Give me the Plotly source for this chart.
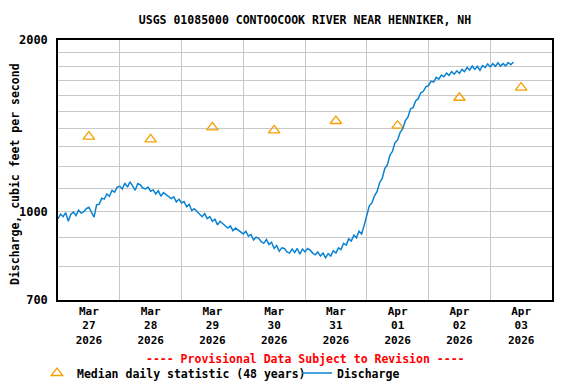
import plotly.graph_objects as go
import pandas as pd
import math

title_text = "USGS 01085000 CONTOOCOOK RIVER NEAR HENNIKER, NH"
y_axis_title = "Discharge, cubic feet per second"
provisional_text = "---- Provisional Data Subject to Revision ----"
median_name = "Median daily statistic (48 years)"
discharge_name = "Discharge"

# Median daily statistic, plotted at noon of each day
median_dates = ["2026-03-27 12:00", "2026-03-28 12:00", "2026-03-29 12:00", "2026-03-30 12:00",
                "2026-03-31 12:00", "2026-04-01 12:00", "2026-04-02 12:00", "2026-04-03 12:00"]
median_values = [1354, 1339, 1406, 1389, 1442, 1415, 1584, 1650]

# Hourly discharge (cfs) starting 2026-03-27 00:00
discharge_start = "2026-03-27 00:00"
discharge_values = [
    # Mar 27
    972, 990, 980, 996, 962, 990, 998, 984, 1006, 994, 1000, 1012,
    1018, 1000, 978, 1028, 1030, 1056, 1052, 1074, 1064, 1090, 1082, 1104,
    # Mar 28
    1108, 1096, 1122, 1104, 1128, 1110, 1090, 1120, 1114, 1100, 1096, 1104,
    1086, 1092, 1074, 1088, 1064, 1080, 1072, 1062, 1054, 1062, 1040, 1052,
    # Mar 29
    1036, 1042, 1020, 1030, 1004, 1012, 1000, 990, 980, 992, 972, 980,
    962, 970, 948, 962, 952, 944, 936, 944, 926, 936, 928, 920,
    # Mar 30
    914, 924, 906, 912, 892, 902, 898, 886, 880, 894, 876, 884,
    862, 872, 852, 864, 862, 850, 846, 860, 848, 862, 842, 860,
    # Mar 31
    850, 862, 856, 846, 840, 850, 836, 846, 830, 844, 836, 854,
    846, 864, 858, 880, 874, 896, 888, 910, 900, 924, 914, 946,
    # Apr 01
    986, 1024, 1036, 1066, 1084, 1124, 1144, 1190, 1208, 1256, 1276, 1322,
    1336, 1378, 1398, 1444, 1464, 1514, 1522, 1564, 1578, 1616, 1626, 1656,
    # Apr 02
    1664, 1694, 1688, 1720, 1708, 1736, 1724, 1750, 1734, 1760, 1742, 1766,
    1748, 1776, 1760, 1790, 1772, 1800, 1776, 1798, 1770, 1804, 1790, 1816,
    # Apr 03
    1794, 1818, 1798, 1824, 1800, 1818, 1802, 1826, 1810, 1830,
]

x_range = ["2026-03-27 00:00", "2026-04-04 00:00"]
y_range = [700, 2000]
y_tick_values = [700, 800, 900, 1000, 1100, 1200, 1300, 1400, 1500, 1600, 1700, 1800, 1900, 2000]
y_tick_labels = ["700", "", "", "1000", "", "", "", "", "", "", "", "", "", "2000"]

discharge_times = pd.date_range(discharge_start, periods=len(discharge_values), freq="h")

FONT = "DejaVu Sans Mono"
GRID = "#c8c8c8"
# the page body adds an 8px offset, so the figure is 8px smaller and everything shifted
W, H = 568, 376

fig = go.Figure()
fig.add_trace(go.Scatter(
    x=median_dates, y=median_values, mode="markers", name=median_name, legend="legend",
    marker=dict(symbol="triangle-up-open", size=10, color="#f5a000", line=dict(width=1.3, color="#f5a000")),
))
fig.add_trace(go.Scatter(
    x=discharge_times, y=discharge_values, mode="lines", name=discharge_name, legend="legend2",
    line=dict(color="#0a82d2", width=1.5),
))

legend_font = dict(family=FONT, size=11.5, color="black", weight="bold")
fig.update_layout(
    width=W, height=H,
    margin=dict(l=50, r=24, t=32, b=84, autoexpand=False),
    paper_bgcolor="white", plot_bgcolor="white",
    font=dict(family=FONT, size=11.5, color="black", weight="bold"),
    title=dict(text=title_text, x=0.5, xref="paper", y=1 - 12 / H, yref="container",
               xanchor="center", yanchor="middle",
               font=dict(family=FONT, size=11.5, color="black", weight="bold")),
    showlegend=True,
    legend=dict(orientation="h", xref="container", yref="container",
                x=29 / W, y=1 - 365 / H, xanchor="left", yanchor="middle",
                font=legend_font, bgcolor="rgba(0,0,0,0)", borderwidth=0),
    legend2=dict(orientation="h", xref="container", yref="container",
                 x=289 / W, y=1 - 365 / H, xanchor="left", yanchor="middle",
                 font=legend_font, bgcolor="rgba(0,0,0,0)", borderwidth=0),
    annotations=[
        dict(text=provisional_text, xref="paper", yref="paper",
             x=0.5, y=(300 - 359) / 260, xanchor="center", yanchor="middle",
             showarrow=False,
             font=dict(family=FONT, size=11.5, color="#ff0000", weight="bold")),
        dict(text=y_axis_title, xref="paper", yref="paper", textangle=-90,
             x=(15 - 58) / 494, y=(300 - 174) / 260, xanchor="center", yanchor="middle",
             showarrow=False, borderpad=0, borderwidth=0,
             font=dict(family=FONT, size=11.5, color="black", weight="bold")),
    ],
)
fig.update_xaxes(
    type="date", range=x_range, automargin=False,
    tick0="2026-03-27", dtick=86400000, ticklabelmode="period",
    tickformat="%b<br>%d<br>%Y", ticks="",
    tickfont=dict(family=FONT, size=11, color="black", weight="bold"),
    showgrid=True, gridcolor=GRID, gridwidth=1,
    showline=True, linecolor="black", linewidth=1.5, mirror=True,
    zeroline=False,
)
fig.update_yaxes(
    type="log", range=[math.log10(y_range[0]), math.log10(y_range[1])], automargin=False,
    tickmode="array", tickvals=y_tick_values, ticktext=y_tick_labels, ticks="",
    ticklabelstandoff=6,
    tickfont=dict(family=FONT, size=12, color="black", weight="bold"),
    showgrid=True, gridcolor=GRID, gridwidth=1,
    showline=True, linecolor="black", linewidth=1.5, mirror=True,
    zeroline=False,
)

fig.write_html("out.html")
